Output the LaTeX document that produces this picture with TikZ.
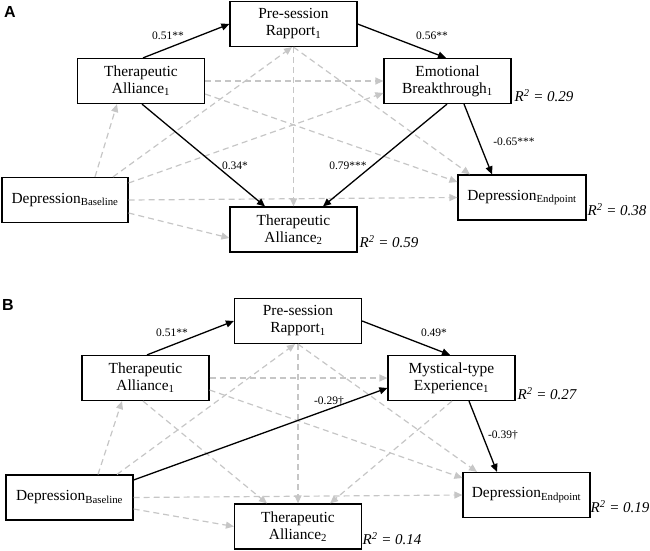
\documentclass[tikz,border=0pt]{standalone}
\usepackage{fontspec}
\setmainfont{Liberation Serif}
\newfontfamily\panelfont{Liberation Sans}
\usetikzlibrary{arrows.meta,calc}
\definecolor{dgray}{RGB}{198,198,198}
\begin{document}
\begin{tikzpicture}[x=1pt,y=-1pt,
 box/.style={draw=black,fill=white,line width=1.2pt,minimum width=127pt,minimum height=45pt,inner sep=0pt,align=center,font=\fontsize{15.4}{17}\selectfont},
 sol/.style={draw=black,line width=1.3pt,-{Triangle[length=8pt,width=7pt]}},
 dsh/.style={draw=dgray,line width=1.2pt,dash pattern=on 6pt off 4pt,-{Triangle[length=8pt,width=7pt]}},
 coef/.style={font=\fontsize{11.5}{13}\selectfont,inner sep=0pt},
 rsq/.style={font=\fontsize{15}{17}\selectfont\itshape,inner sep=0pt},
 panel/.style={font=\panelfont\bfseries\fontsize{16}{18}\selectfont,inner sep=0pt}]
\useasboundingbox (0,0) rectangle (650,551);

% ---------------- Panel A ----------------
\node[panel] (pA) at (10,12) {A};
\node[box] (rapA) at (293.5,24) {Pre-session\\Rapport\textsubscript{1}};
\node[box] (ta1A) at (141,81) {Therapeutic\\Alliance\textsubscript{1}};
\node[box] (ebA) at (447.5,81) {Emotional\\Breakthrough\textsubscript{1}};
\node[box,minimum width=126pt] (dbA) at (65,200) {Depression\textsubscript{Baseline}};
\node[box] (ta2A) at (293.5,229.5) {Therapeutic\\Alliance\textsubscript{2}};
\node[box,minimum width=128pt] (deA) at (522,197.5) {Depression\textsubscript{Endpoint}};

% dashed paths A
\draw[dsh] ([xshift=30pt]dbA.north) -- ([xshift=-24pt]ta1A.south);
\draw[dsh] ([xshift=48pt]dbA.north) -- ([xshift=-1.5pt]rapA.south);
\draw[dsh] ([yshift=17pt]dbA.east) -- ([yshift=-12pt]ebA.west);
\draw[dsh] (dbA.east) -- (deA.west);
\draw[dsh] ([yshift=-13pt]dbA.east) -- ([yshift=-8.5pt]ta2A.west);
\draw[dsh] (ta1A.east) -- (ebA.west);
\draw[dsh] ([yshift=-13pt]ta1A.east) -- ([yshift=15.5pt]deA.west);
\draw[dsh] (rapA.south) -- ([xshift=-52pt]deA.north);
\draw[dsh] (rapA.south) -- (ta2A.north);

% solid paths A
\draw[sol] ([xshift=2pt]ta1A.north) -- (rapA.west);
\draw[sol] (rapA.east) -- ([xshift=-1.5pt]ebA.north);
\draw[sol] ([xshift=1pt]ta1A.south) -- ([xshift=-28.5pt]ta2A.north);
\draw[sol] ([xshift=-0.5pt]ebA.south) -- ([xshift=29.5pt]ta2A.north);
\draw[sol] ([xshift=16.5pt]ebA.south) -- ([xshift=-30pt]deA.north);

\node[coef] (cA1) at (168,36) {0.51**};
\node[coef] (cA2) at (432,36) {0.56**};
\node[coef] (cA3) at (514,142) {-0.65***};
\node[coef] (cA4) at (235,166) {0.34*};
\node[coef] (cA5) at (348,166) {0.79***};

\node[rsq] (rA1) at (544,96) {R\textsuperscript{2} = 0.29};
\node[rsq] (rA2) at (389,242) {R\textsuperscript{2} = 0.59};
\node[rsq] (rA3) at (617,210) {R\textsuperscript{2} = 0.38};

% ---------------- Panel B ----------------
\node[panel] (pB) at (8,305) {B};
\node[box] (rapB) at (298,321) {Pre-session\\Rapport\textsubscript{1}};
\node[box] (ta1B) at (145.5,378) {Therapeutic\\Alliance\textsubscript{1}};
\node[box] (myB) at (451.5,378) {Mystical-type\\Experience\textsubscript{1}};
\node[box] (dbB) at (69.5,497.5) {Depression\textsubscript{Baseline}};
\node[box] (ta2B) at (298,526.5) {Therapeutic\\Alliance\textsubscript{2}};
\node[box] (deB) at (526.5,495) {Depression\textsubscript{Endpoint}};

% dashed paths B
\draw[dsh] ([xshift=28.5pt]dbB.north) -- ([xshift=-23.5pt]ta1B.south);
\draw[dsh] ([xshift=47.5pt]dbB.north) -- ([xshift=-3pt]rapB.south);
\draw[dsh] (ta1B.east) -- (myB.west);
\draw[dsh] ([yshift=-12pt]ta1B.east) -- ([yshift=17pt]deB.west);
\draw[dsh] (rapB.south) -- ([xshift=-49.5pt]deB.north);
\draw[dsh] (rapB.south) -- (ta2B.north);
\draw[dsh] ([xshift=-2.5pt]ta1B.south) -- ([xshift=-31pt]ta2B.north);
\draw[dsh] ([xshift=0.5pt]myB.south) -- ([xshift=32pt]ta2B.north);
\draw[dsh] (dbB.east) -- (deB.west);
\draw[dsh] ([yshift=-11.5pt]dbB.east) -- (ta2B.west);

% solid paths B
\draw[sol] ([xshift=1.5pt]ta1B.north) -- (rapB.west);
\draw[sol] (rapB.east) -- ([xshift=-1.5pt]myB.north);
\draw[sol] ([yshift=17.5pt]dbB.east) -- ([yshift=-10pt]myB.west);
\draw[sol] ([xshift=17.5pt]myB.south) -- ([xshift=-29.5pt]deB.north);

\node[coef] (cB1) at (172,333) {0.51**};
\node[coef] (cB2) at (434,333) {0.49*};
\node[coef] (cB3) at (329,401) {-0.29†};
\node[coef] (cB4) at (503,435) {-0.39†};

\node[rsq] (rB1) at (547,394) {R\textsuperscript{2} = 0.27};
\node[rsq] (rB2) at (392,539) {R\textsuperscript{2} = 0.14};
\node[rsq] (rB3) at (620,507) {R\textsuperscript{2} = 0.19};
\end{tikzpicture}
\end{document}
